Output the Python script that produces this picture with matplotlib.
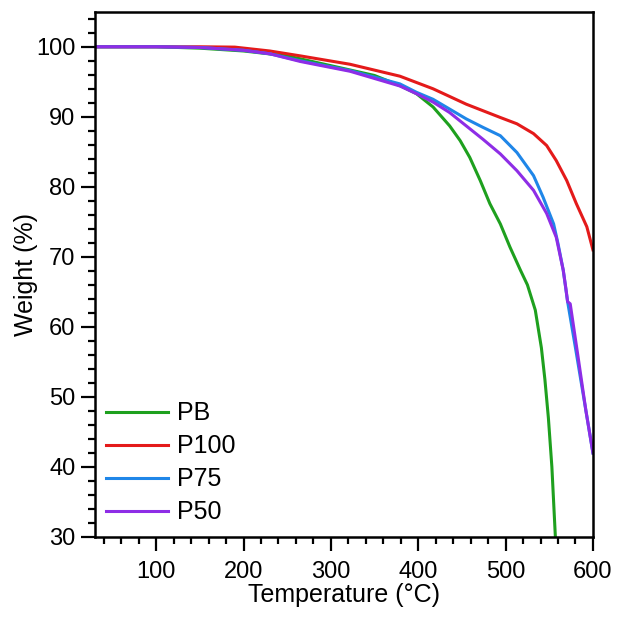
import matplotlib
matplotlib.use("Agg")
import matplotlib.pyplot as plt
from matplotlib.ticker import MultipleLocator

plt.rcParams['font.family'] = ['Liberation Sans', 'DejaVu Sans']

# Data (Temperature in °C, Weight in %)
pb_T = [30, 100, 150, 200, 250, 300, 350, 380, 398, 417, 436, 448, 459, 471, 482, 494, 505, 517, 525, 534, 541, 545, 549, 553, 557]
pb_W = [100, 100, 99.8, 99.4, 98.7, 97.3, 95.9, 94.4, 93.3, 91.4, 88.7, 86.6, 84.2, 80.9, 77.6, 74.7, 71.4, 68.1, 66.0, 62.4, 57.0, 52.5, 47.0, 40.0, 30.0]

p100_T = [30, 100, 150, 190, 230, 265, 322, 379, 417, 455, 494, 513, 532, 547, 558, 570, 581, 593, 600]
p100_W = [100, 100, 100, 99.95, 99.4, 98.7, 97.5, 95.8, 94.0, 91.8, 89.9, 89.0, 87.6, 85.9, 83.75, 80.9, 77.6, 74.3, 71.0]

p75_T = [30, 100, 150, 200, 230, 265, 322, 379, 398, 417, 436, 455, 474, 494, 513, 532, 543, 555, 560, 566, 571, 580, 590, 600]
p75_W = [100, 100, 99.9, 99.5, 99.0, 98.0, 96.6, 94.7, 93.5, 92.5, 91.1, 89.7, 88.5, 87.3, 84.9, 81.6, 78.5, 74.7, 71.9, 68.1, 63.6, 57.0, 49.5, 42.0]

p50_T = [30, 100, 150, 200, 230, 265, 322, 379, 398, 417, 436, 455, 474, 494, 513, 532, 547, 558, 566, 569, 571, 574, 583, 592, 600]
p50_W = [100, 100, 99.9, 99.5, 99.0, 97.9, 96.5, 94.4, 93.3, 92.1, 90.6, 88.7, 86.8, 84.7, 82.3, 79.5, 76.2, 72.8, 68.1, 65.5, 63.6, 63.3, 55.7, 48.0, 42.0]

labels = ["PB", "P100", "P75", "P50"]
colors = ["#1ea01e", "#e41a1a", "#1f86e8", "#8e2de6"]

x_ticks = [100, 200, 300, 400, 500, 600]
y_ticks = [30, 40, 50, 60, 70, 80, 90, 100]

fig = plt.figure(figsize=(6.17, 6.19), dpi=100)
ax = fig.add_axes([0.154, 0.1325, 0.807, 0.8485])

series = [(pb_T, pb_W), (p100_T, p100_W), (p75_T, p75_W), (p50_T, p50_W)]
for (t, w), lab, c in zip(series, labels, colors):
    ax.plot(t, w, color=c, lw=2.2, label=lab)

ax.set_xlim(30, 600)
ax.set_ylim(30, 105)
ax.xaxis.set_minor_locator(MultipleLocator(20))
ax.yaxis.set_minor_locator(MultipleLocator(2))
ax.set_xticks(x_ticks)
ax.set_yticks(y_ticks)

for s in ax.spines.values():
    s.set_linewidth(1.8)
ax.tick_params(which='major', direction='out', length=10, width=1.6, labelsize=17)
ax.tick_params(axis='x', which='major', pad=7)
ax.tick_params(axis='y', which='major', pad=4)
ax.tick_params(which='minor', direction='out', length=5, width=1.6)
ax.tick_params(top=False, right=False)

ax.set_xlabel("Temperature (°C)", fontsize=18, labelpad=0.5)
ax.set_ylabel("Weight (%)", fontsize=18, labelpad=-1)

leg = ax.legend(loc='lower left', frameon=False, fontsize=18, handlelength=2.5,
                handletextpad=0.35, labelspacing=0.36, borderaxespad=0, borderpad=0,
                bbox_to_anchor=(0.022, 0.024))

fig.savefig("out.png", dpi=100)
